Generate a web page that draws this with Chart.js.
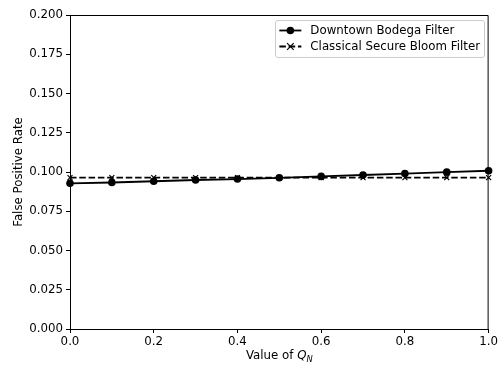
<!DOCTYPE html>
<html>
<head>
<meta charset="utf-8">
<script src="https://cdn.jsdelivr.net/npm/chart.js@4"></script>
<style>
  html, body { margin: 0; padding: 0; background: #fff; }
  #wrap { width: 500px; height: 365px; }
</style>
</head>
<body>
<div id="wrap"><canvas id="chart" width="500" height="365"></canvas></div>
<script>
// values
const qValues = [0.0, 0.1, 0.2, 0.3, 0.4, 0.5, 0.6, 0.7, 0.8, 0.9, 1.0];
const bodegaFpr = [0.0928, 0.0933, 0.0941, 0.0949, 0.0955, 0.0963, 0.0972, 0.0981, 0.0990, 0.0999, 0.1008];
const bloomFpr = [0.0964, 0.0964, 0.0964, 0.0964, 0.0964, 0.0964, 0.0964, 0.0964, 0.0964, 0.0964, 0.0964];
const seriesNames = ['Downtown Bodega Filter', 'Classical Secure Bloom Filter'];

const FS = 11.8;
const FONT = FS + 'px "DejaVu Sans"';
const DASH = [6.5, 2.8];

const toPoints = (ys) => qValues.map((x, i) => ({ x, y: ys[i] }));

// draws frame, legend and axis titles the way matplotlib does
const decorations = {
  id: 'decorations',
  afterDraw(chart) {
    const ctx = chart.ctx;
    const a = chart.chartArea;
    ctx.save();
    // top + right spines
    ctx.strokeStyle = '#000';
    ctx.lineWidth = 1;
    ctx.beginPath();
    ctx.moveTo(a.left, a.top + 0.5);
    ctx.lineTo(a.right - 0.5, a.top + 0.5);
    ctx.lineTo(a.right - 0.5, a.bottom);
    ctx.stroke();

    // legend box, upper right
    ctx.font = FONT;
    const textW = Math.max(...seriesNames.map(s => ctx.measureText(s).width));
    const boxR = 484.5, boxT = 20.5, boxH = 37;
    const textX = boxR - 4.5 - textW;
    const handleR = textX - 9, handleL = handleR - 22;
    const boxL = handleL - 4.5;
    ctx.fillStyle = 'rgba(255,255,255,0.8)';
    ctx.strokeStyle = '#ccc';
    ctx.lineWidth = 1;
    ctx.beginPath();
    ctx.roundRect(Math.round(boxL) + 0.5, boxT, boxR - Math.round(boxL) - 0.5, boxH, 2.5);
    ctx.fill();
    ctx.stroke();

    const rows = [
      { y: 30.5, dash: [], marker: 'circle' },
      { y: 46.5, dash: DASH, marker: 'cross' }
    ];
    const mx = (handleL + handleR) / 2;
    rows.forEach((r, i) => {
      ctx.strokeStyle = '#000';
      ctx.lineWidth = 1.8;
      ctx.setLineDash(r.dash);
      ctx.beginPath();
      ctx.moveTo(handleL, r.y);
      ctx.lineTo(handleR, r.y);
      ctx.stroke();
      ctx.setLineDash([]);
      if (r.marker === 'circle') {
        ctx.fillStyle = '#000';
        ctx.beginPath();
        ctx.arc(mx, r.y, 3.8, 0, Math.PI * 2);
        ctx.fill();
      } else {
        ctx.lineWidth = 1.2;
        ctx.beginPath();
        ctx.moveTo(mx - 3.3, r.y - 3.3); ctx.lineTo(mx + 3.3, r.y + 3.3);
        ctx.moveTo(mx - 3.3, r.y + 3.3); ctx.lineTo(mx + 3.3, r.y - 3.3);
        ctx.stroke();
      }
      ctx.fillStyle = '#000';
      ctx.font = FONT;
      ctx.textBaseline = 'middle';
      ctx.textAlign = 'left';
      ctx.fillText(seriesNames[i], textX, r.y);
    });

    // x title: "Value of Q_N"
    ctx.textBaseline = 'alphabetic';
    const pre = 'Value of ';
    ctx.font = FONT;
    const w1 = ctx.measureText(pre).width;
    ctx.font = 'italic ' + FONT;
    const w2 = ctx.measureText('Q').width;
    ctx.font = 'italic 8.3px "DejaVu Sans"';
    const w3 = ctx.measureText('N').width;
    const x0 = (a.left + a.right) / 2 - (w1 + w2 + w3) / 2;
    const by = 359;
    ctx.font = FONT;
    ctx.fillText(pre, x0, by);
    ctx.font = 'italic ' + FONT;
    ctx.fillText('Q', x0 + w1, by);
    ctx.font = 'italic 8.3px "DejaVu Sans"';
    ctx.fillText('N', x0 + w1 + w2, by + 2.5);

    // y title
    ctx.font = FONT;
    ctx.translate(19, (a.top + a.bottom) / 2);
    ctx.rotate(-Math.PI / 2);
    ctx.textAlign = 'center';
    ctx.textBaseline = 'middle';
    ctx.fillText('False Positive Rate', 0, 0);
    ctx.restore();
  }
};

new Chart(document.getElementById('chart').getContext('2d'), {
  type: 'scatter',
  data: {
    datasets: [
      {
        label: seriesNames[0],
        data: toPoints(bodegaFpr),
        showLine: true,
        borderColor: '#000',
        backgroundColor: '#000',
        borderWidth: 1.8,
        pointStyle: 'circle',
        pointRadius: 3.8,
        pointBorderWidth: 0,
        pointBackgroundColor: '#000',
        clip: false,
        order: 1
      },
      {
        label: seriesNames[1],
        data: toPoints(bloomFpr),
        showLine: true,
        borderColor: '#000',
        backgroundColor: '#000',
        borderWidth: 1.8,
        borderDash: DASH,
        pointStyle: 'crossRot',
        pointRadius: 3.5,
        pointBorderWidth: 1.2,
        pointBorderColor: '#000',
        clip: false,
        order: 2
      }
    ]
  },
  options: {
    responsive: false,
    animation: false,
    layout: { padding: { top: 15, right: 10, left: 0, bottom: 0 } },
    plugins: { legend: { display: false }, tooltip: { enabled: false } },
    scales: {
      x: {
        type: 'linear',
        min: 0, max: 1,
        afterFit(s) { s.height = 36; },
        afterBuildTicks(s) { s.ticks = qValues.filter((v, i) => i % 2 === 0).map(v => ({ value: v })); },
        ticks: {
          color: '#000', font: { family: 'DejaVu Sans', size: FS }, padding: 2,
          maxRotation: 0,
          callback: (v) => v.toFixed(1)
        },
        grid: { drawOnChartArea: false, drawTicks: true, tickLength: 4, color: '#000' },
        border: { display: true, color: '#000', width: 1 }
      },
      y: {
        min: 0, max: 0.2,
        afterFit(s) { s.width = 70; },
        ticks: {
          stepSize: 0.025, color: '#000', font: { family: 'DejaVu Sans', size: FS }, padding: 3,
          callback: (v) => v.toFixed(3)
        },
        grid: { drawOnChartArea: false, drawTicks: true, tickLength: 4, color: '#000' },
        border: { display: true, color: '#000', width: 1 }
      }
    }
  },
  plugins: [decorations]
});
</script>
</body>
</html>
